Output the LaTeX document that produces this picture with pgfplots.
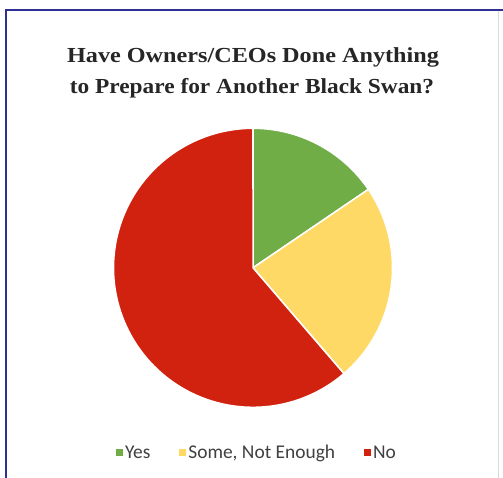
\documentclass[border=0pt]{standalone}
\usepackage{pgfplots}
\pgfplotsset{compat=1.18}
\usepackage{pgfplotstable}
\usepackage{fontspec}
\setmainfont{Liberation Serif}
\newfontfamily\legfont{Carlito}
\definecolor{cYes}{HTML}{70AD47}
\definecolor{cSome}{HTML}{FFD966}
\definecolor{cNo}{HTML}{D12210}
\definecolor{frameblue}{HTML}{2E3192}
\definecolor{titlecol}{HTML}{262626}
\definecolor{legcol}{HTML}{404040}

\pgfplotstableread{
label pct
Yes 15.5
Some 23.2
No 61.3
}\piedata

\begin{document}
\begin{tikzpicture}
\pgfplotstablegetelem{0}{pct}\of\piedata \let\pa\pgfplotsretval
\pgfplotstablegetelem{1}{pct}\of\piedata \let\pb\pgfplotsretval
\pgfplotstablegetelem{2}{pct}\of\piedata \let\pc\pgfplotsretval
\pgfmathsetmacro{\aA}{0}
\pgfmathsetmacro{\aB}{\pa*3.6}
\pgfmathsetmacro{\aC}{(\pa+\pb)*3.6}
\pgfmathsetmacro{\aD}{(\pa+\pb+\pc)*3.6}
\useasboundingbox (0bp,0bp) rectangle (503bp,478bp);
\fill[white] (0bp,0bp) rectangle (503bp,478bp);
% frame
\draw[black!15, line width=1bp] (498bp,0bp) -- (498bp,468bp);
\draw[frameblue, line width=2bp] (6bp,0bp) -- (6bp,468bp) -- (503bp,468bp);
% title
\node[text=titlecol, font=\fontsize{21.5}{31}\selectfont\bfseries, anchor=base, inner sep=0pt] at (253bp,415bp)
  {\scalebox{1.13}[1]{Have Owners/CEOs Done Anything}};
\node[text=titlecol, font=\fontsize{21.5}{31}\selectfont\bfseries, anchor=base, inner sep=0pt] at (252bp,384bp)
  {\scalebox{1.09}[1]{to Prepare for Another Black Swan?}};
\begin{axis}[
  at={(253bp,210.2bp)}, anchor=center,
  scale only axis, width=279bp, height=279bp,
  xmin=-1, xmax=1, ymin=-1, ymax=1,
  hide axis,
  clip=false,
  legend columns=3,
  legend style={draw=none, fill=none, at={(0.5,0)}, anchor=center, yshift=-45.5bp, xshift=4bp,
    font=\legfont\fontsize{19.5}{22}\selectfont, text=legcol,
    /tikz/every even column/.append style={column sep=27bp},
    inner xsep=0pt},
  legend image code/.code={\fill[#1, draw=none] (-3bp,-3.5bp) rectangle (4bp,3.5bp);},
]
\addplot[fill=cYes, draw=white, line width=1.5bp, domain=\aA:\aB, samples=60, variable=\t]
  ({sin(\t)},{cos(\t)}) -- (0,0) -- cycle;
\addlegendentry{Yes}
\addplot[fill=cSome, draw=white, line width=1.5bp, domain=\aB:\aC, samples=80, variable=\t]
  ({sin(\t)},{cos(\t)}) -- (0,0) -- cycle;
\addlegendentry{Some, Not Enough}
\addplot[fill=cNo, draw=white, line width=1.5bp, domain=\aC:\aD, samples=150, variable=\t]
  ({sin(\t)},{cos(\t)}) -- (0,0) -- cycle;
\addlegendentry{No}
\end{axis}
\end{tikzpicture}
\end{document}
